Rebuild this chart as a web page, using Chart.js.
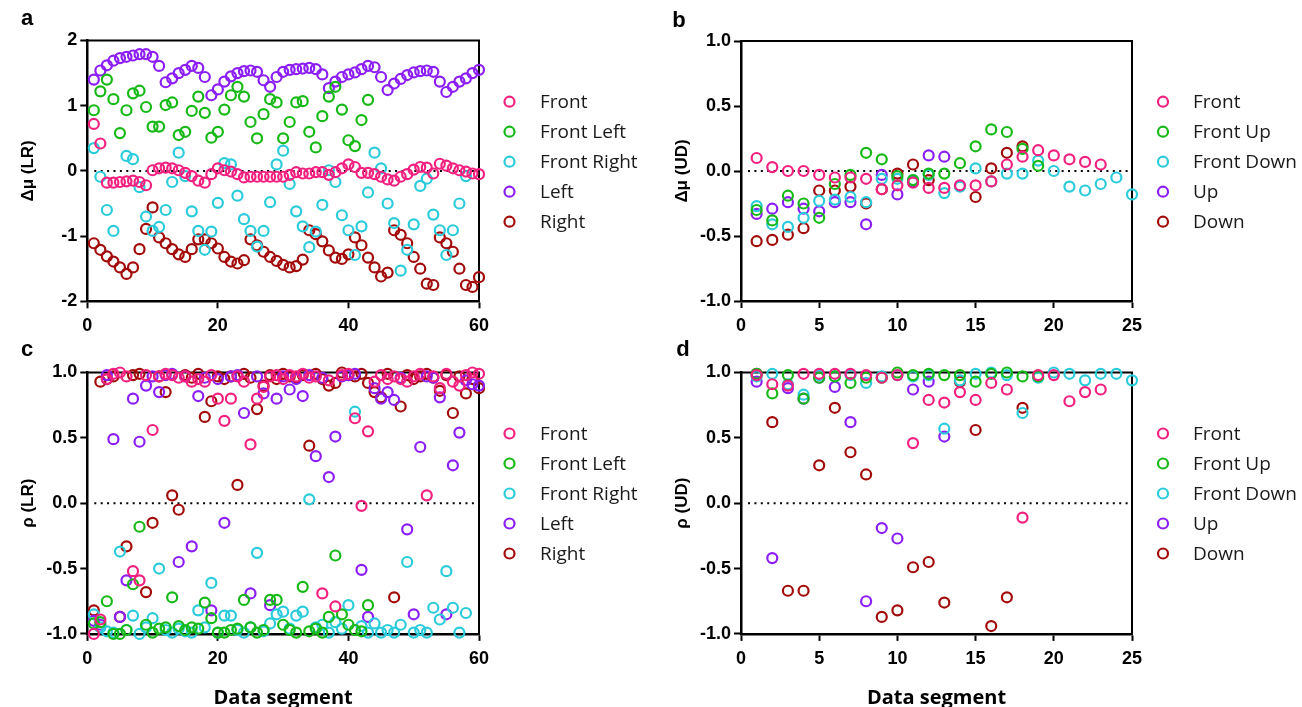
<!DOCTYPE html>
<html>
<head>
<meta charset="utf-8">
<script src="https://cdn.jsdelivr.net/npm/chart.js@4.4.1/dist/chart.umd.min.js"></script>
<style>
  html, body { margin:0; padding:0; background:#fff; width:1302px; height:707px; overflow:hidden; }
  canvas { position:absolute; }
</style>
</head>
<body>
<canvas id="ca" width="651" height="340" style="left:0;top:0"></canvas>
<canvas id="cb" width="651" height="340" style="left:651px;top:0"></canvas>
<canvas id="cc" width="651" height="370" style="left:0;top:340px"></canvas>
<canvas id="cd" width="651" height="370" style="left:651px;top:340px"></canvas>
<script>
// ---------- labels ----------
const lrLabels = ['Front', 'Front Left', 'Front Right', 'Left', 'Right'];
const udLabels = ['Front', 'Front Up', 'Front Down', 'Up', 'Down'];
const seriesColors = ['#F2207F', '#17B917', '#2ACBDB', '#8C1EF5', '#A30A0A'];

// ---------- tick values / labels ----------
const lrXTicks = [0, 20, 40, 60];
const lrXTickLabels = ['0', '20', '40', '60'];
const udXTicks = [0, 5, 10, 15, 20, 25];
const udXTickLabels = ['0', '5', '10', '15', '20', '25'];
const muLRYTicks = [-2, -1, 0, 1, 2];
const muLRYTickLabels = ['-2', '-1', '0', '1', '2'];
const unitYTicks = [-1, -0.5, 0, 0.5, 1];
const unitYTickLabels = ['-1.0', '-0.5', '0.0', '0.5', '1.0'];

// ---------- panel a : Δμ (LR), segments 1..60 ----------
const lrMuFront = [0.72,0.42,-0.18,-0.18,-0.17,-0.16,-0.15,-0.17,-0.22,0.01,
  0.04,0.05,0.04,0.01,-0.03,-0.08,-0.15,-0.18,-0.05,0.04,
  0.01,-0.01,-0.05,-0.10,-0.09,-0.09,-0.09,-0.09,-0.09,-0.09,
  -0.06,-0.02,-0.04,-0.04,-0.02,-0.02,-0.06,-0.02,0.04,0.10,
  0.06,-0.03,-0.03,-0.05,-0.09,-0.13,-0.15,-0.09,-0.05,0.02,
  0.06,0.05,-0.04,0.11,0.08,0.04,0.01,-0.01,-0.04,-0.05];
const lrMuFrontLeft = [0.93,1.22,1.40,1.10,0.58,0.93,1.19,1.23,0.98,0.68,
  0.68,1.01,1.05,0.55,0.60,0.92,1.14,0.89,0.51,0.60,
  0.94,1.16,1.29,1.14,0.75,0.50,0.87,1.10,1.05,0.50,
  0.75,1.05,1.07,0.60,0.36,0.84,1.14,1.29,0.94,0.47,
  0.38,0.78,1.09];
const lrMuFrontRight = [0.35,-0.09,-0.60,-0.92,null,0.23,0.18,-0.25,-0.70,-0.92,
  -0.86,-0.60,-0.17,0.28,-0.08,-0.62,-0.92,-1.21,-0.93,-0.49,
  0.12,0.10,-0.38,-0.74,-0.92,-1.16,-0.92,-0.48,0.10,0.31,
  -0.20,-0.62,-0.85,-1.17,-0.93,-0.52,0.01,-0.17,-0.68,-0.91,
  -1.29,-0.85,-0.33,0.28,0.04,-0.50,-0.80,-1.53,-1.21,-0.82,
  -0.23,-0.12,-0.67,-0.91,-1.29,-0.91,-0.50,-0.08];
const lrMuLeft = [1.40,1.54,1.62,1.69,1.73,1.75,1.77,1.79,1.79,1.75,
  1.61,1.36,1.42,1.50,1.55,1.61,1.58,1.44,1.16,1.25,
  1.37,1.45,1.50,1.53,1.54,1.52,1.39,1.29,1.44,1.52,
  1.55,1.56,1.57,1.58,1.56,1.48,1.27,1.37,1.44,1.48,
  1.51,1.56,1.61,1.59,1.44,1.24,1.34,1.41,1.47,1.51,
  1.53,1.54,1.52,1.37,1.21,1.29,1.37,1.42,1.50,1.55];
const lrMuRight = [-1.11,-1.21,-1.31,-1.39,-1.48,-1.58,-1.48,-1.20,-0.89,-0.56,
  -1.02,-1.11,-1.20,-1.28,-1.32,-1.20,-1.05,-1.05,-1.11,-1.19,
  -1.32,-1.39,-1.42,-1.37,-1.05,-1.14,-1.24,-1.32,-1.38,-1.44,
  -1.48,-1.46,-1.36,-0.91,-0.97,-1.08,-1.22,-1.33,-1.35,-1.28,
  -1.02,-1.14,-1.33,-1.48,-1.62,-1.56,-0.91,-0.98,-1.11,-1.32,
  -1.50,-1.73,-1.75,-1.02,-1.11,-1.24,-1.50,-1.75,-1.78,-1.63];

// ---------- panel b : Δμ (UD), segments 1..25 ----------
const udMuFront = [0.10,0.03,0.00,0.00,-0.03,-0.05,-0.05,-0.06,-0.14,-0.11,
  -0.09,-0.13,-0.13,-0.11,-0.11,-0.08,0.05,0.11,0.16,0.12,
  0.09,0.07,0.05];
const udMuFrontUp = [-0.30,-0.38,-0.19,-0.25,-0.36,-0.10,-0.03,0.14,0.09,-0.04,
  -0.07,-0.02,-0.02,0.06,0.19,0.32,0.30,0.17,0.04];
const udMuFrontDown = [-0.27,-0.41,-0.43,-0.36,-0.23,-0.22,-0.20,-0.24,-0.06,-0.06,
  -0.07,-0.03,-0.17,-0.12,0.02,-0.08,-0.02,-0.02,0.08,0.00,
  -0.12,-0.15,-0.10,-0.05,-0.18];
const udMuUp = [-0.33,-0.29,-0.24,-0.29,-0.31,-0.24,-0.24,-0.41,-0.03,-0.18,
  -0.08,0.12,0.11];
const udMuDown = [-0.54,-0.53,-0.49,-0.44,-0.15,-0.15,-0.12,-0.25,-0.14,-0.02,
  0.05,-0.07,null,null,-0.20,0.02,0.14,0.19];

// ---------- panel c : ρ (LR), segments 1..60 ----------
const lrRhoFront = [-1.00,-0.89,0.95,0.99,1.00,0.97,-0.52,-0.59,0.98,0.56,
  0.97,0.99,0.98,0.96,0.97,0.93,0.95,0.93,0.98,0.80,
  0.63,0.80,0.97,0.93,0.45,0.80,0.89,0.97,0.98,0.95,
  0.98,0.97,0.99,0.96,0.97,-0.69,0.94,-0.79,0.98,0.99,
  0.65,-0.02,0.55,0.93,0.98,0.95,0.97,0.95,0.93,0.97,
  0.99,0.06,0.97,0.88,0.99,0.93,0.90,0.98,1.00,0.99];
const lrRhoFrontLeft = [-0.92,-0.91,-0.75,-1.00,-1.00,-0.97,-0.62,-0.18,-0.93,-0.99,
  -0.96,-0.95,-0.72,-0.94,-0.97,-0.95,-0.96,-0.76,-0.88,-0.99,
  -0.99,-0.97,-0.96,-0.74,-0.95,-0.99,-0.97,-0.74,-0.74,-0.93,
  -0.97,-0.99,-0.64,-0.98,-0.96,-0.99,-0.87,-0.40,-0.85,-0.93,
  -0.97,-0.98,-0.78];
const lrRhoFrontRight = [-0.85,-0.95,-0.98,-0.99,-0.37,-0.97,-0.86,-1.00,-0.95,-0.88,
  -0.50,-0.97,-0.99,-0.96,-0.98,-0.99,-0.82,-0.95,-0.61,-0.99,
  -0.86,-0.86,-0.97,-0.99,-0.95,-0.38,-0.98,-0.92,-0.85,-0.83,
  -0.96,-0.86,-0.83,0.03,-0.95,-0.93,-0.99,-0.91,-0.96,-0.78,
  0.70,-0.94,-0.99,-0.92,-0.99,-0.97,-0.99,-0.93,-0.45,-0.99,
  -0.97,-0.99,-0.80,-0.89,-0.52,-0.80,-0.99,-0.84];
const lrRhoLeft = [-0.90,-0.93,0.98,0.49,-0.87,-0.59,0.80,0.47,0.90,0.97,
  0.85,0.98,0.99,-0.45,0.97,-0.33,0.82,0.96,-0.82,0.95,
  -0.15,0.97,0.98,0.69,-0.69,0.97,0.84,-0.78,0.80,0.97,
  0.87,0.95,0.82,0.98,0.36,0.96,0.20,0.51,0.97,0.98,
  0.99,-0.51,-0.87,0.88,0.80,0.85,0.79,0.96,-0.20,-0.85,
  0.43,0.97,0.96,0.81,-0.85,0.29,0.54,0.94,0.91,0.90];
const lrRhoRight = [-0.82,0.93,0.95,0.97,-0.87,-0.33,0.98,0.99,-0.68,-0.15,
  0.97,0.85,0.06,-0.05,0.98,0.96,0.99,0.66,0.78,0.97,
  0.95,0.97,0.14,0.99,0.96,0.72,0.90,0.98,0.95,0.99,
  0.97,0.96,0.98,0.44,0.99,0.95,0.90,0.92,1.00,0.98,
  0.97,0.99,0.92,0.85,0.81,0.99,-0.72,0.74,0.98,0.95,
  0.97,0.99,0.96,0.86,0.98,0.69,0.97,0.84,0.95,0.88];

// ---------- panel d : ρ (UD), segments 1..25 ----------
const udRhoFront = [0.98,0.91,0.90,0.99,0.99,0.99,0.99,0.98,0.96,0.98,
  0.46,0.79,0.77,0.85,0.79,0.92,0.87,-0.11,0.98,0.98,
  0.78,0.85,0.87];
const udRhoFrontUp = [0.99,0.84,0.98,0.80,0.96,0.97,0.92,0.96,0.96,1.00,
  0.98,0.99,0.98,0.98,0.93,0.99,1.00,0.97,0.97];
const udRhoFrontDown = [0.97,0.99,0.91,0.83,0.98,0.97,0.98,0.92,0.97,0.98,
  0.97,0.98,0.57,0.94,0.99,1.00,0.98,0.69,0.96,1.00,
  0.99,0.94,0.99,0.99,0.94];
const udRhoUp = [0.93,-0.42,0.88,0.80,0.96,0.89,0.62,-0.75,-0.19,-0.27,
  0.87,0.93,0.51];
const udRhoDown = [0.99,0.62,-0.67,-0.67,0.29,0.73,0.39,0.22,-0.87,-0.82,
  -0.49,-0.45,-0.76,0.93,0.56,-0.94,-0.72,0.73];

// ---------- helpers ----------
function toPoints(arr) {
  const out = [];
  arr.forEach((v, i) => { if (v !== null) out.push({ x: i + 1, y: v }); });
  return out;
}

const decorPlugin = {
  id: 'decor',
  beforeDatasetsDraw(chart, args, o) {
    const { ctx, chartArea: ca, scales } = chart;
    ctx.save();
    const y0 = scales.y.getPixelForValue(0);
    ctx.strokeStyle = '#000';
    ctx.lineWidth = 2;
    ctx.setLineDash([2, 4.4]);
    ctx.beginPath();
    ctx.moveTo(ca.left + 7, y0);
    ctx.lineTo(ca.right - 4, y0);
    ctx.stroke();
    ctx.setLineDash([]);
    ctx.lineWidth = 2;
    ctx.beginPath();
    ctx.moveTo(ca.left, ca.top);
    ctx.lineTo(ca.right, ca.top);
    ctx.lineTo(ca.right, ca.bottom);
    ctx.stroke();
    ctx.restore();
  },
  afterDraw(chart, args, o) {
    const { ctx } = chart;
    ctx.save();
    ctx.fillStyle = '#000';
    ctx.font = 'bold 22px "Liberation Sans", Arial, sans-serif';
    ctx.textAlign = 'center';
    ctx.textBaseline = 'alphabetic';
    ctx.fillText(o.letter, o.letterX, o.letterY);
    ctx.font = '19px "Open Sans", sans-serif';
    ctx.textAlign = 'left';
    ctx.textBaseline = 'middle';
    chart.data.datasets.forEach((ds, i) => {
      const y = o.legendY + i * 30;
      ctx.beginPath();
      ctx.arc(o.legendCX, y, 5, 0, Math.PI * 2);
      ctx.lineWidth = 2.2;
      ctx.strokeStyle = ds.borderColor;
      ctx.stroke();
      ctx.fillStyle = '#1a1a1a';
      ctx.fillText(ds.label, o.legendTX, y + 1);
    });
    ctx.restore();
  }
};

const tickFont = { family: 'Liberation Sans', size: 18, weight: 'bold' };

function makeChart(id, c) {
  const datasets = c.series.map((arr, i) => ({
    label: c.labels[i],
    data: toPoints(arr),
    borderColor: seriesColors[i],
    backgroundColor: 'rgba(0,0,0,0)',
    pointRadius: 5,
    pointBorderWidth: 2.2,
    pointHoverRadius: 5,
    showLine: false,
    clip: false
  }));
  return new Chart(document.getElementById(id), {
    type: 'scatter',
    data: { datasets },
    plugins: [decorPlugin],
    options: {
      responsive: false,
      animation: false,
      devicePixelRatio: 1,
      events: [],
      layout: { padding: { left: 0, top: c.padTop, right: c.padRight, bottom: 0 } },
      plugins: {
        legend: { display: false },
        tooltip: { enabled: false },
        decor: c.decor
      },
      scales: {
        x: {
          type: 'linear', min: c.xTicks[0], max: c.xTicks[c.xTicks.length - 1],
          afterBuildTicks: s => { s.ticks = c.xTicks.map(v => ({ value: v })); },
          afterFit: s => { s.height = c.xAxisHeight; },
          ticks: { callback: v => c.xTickLabels[c.xTicks.indexOf(v)], font: tickFont, color: '#000', padding: 7, maxRotation: 0, autoSkip: false },
          grid: { drawOnChartArea: false, drawTicks: true, tickLength: 7, tickWidth: 2, tickColor: '#000' },
          border: { display: true, color: '#000', width: 2.5 },
          title: c.xTitle ? { display: true, text: c.xTitle, color: '#000', font: { family: 'Open Sans', size: 20, weight: 'bold' }, padding: { top: 0, bottom: 0 } } : { display: false }
        },
        y: {
          type: 'linear', min: c.yTicks[0], max: c.yTicks[c.yTicks.length - 1],
          afterBuildTicks: s => { s.ticks = c.yTicks.map(v => ({ value: v })); },
          afterFit: s => { s.width = c.yAxisWidth; },
          ticks: { callback: v => c.yTickLabels[c.yTicks.indexOf(v)], font: tickFont, color: '#000', padding: 3, autoSkip: false },
          grid: { drawOnChartArea: false, drawTicks: true, tickLength: 7, tickWidth: 2, tickColor: '#000' },
          border: { display: true, color: '#000', width: 2.5 },
          title: { display: true, text: c.yTitle, color: '#000', font: { family: 'Liberation Sans', size: 17, weight: 'bold' }, padding: { top: c.yTitlePad, bottom: 0 } }
        }
      }
    }
  });
}

makeChart('ca', {
  series: [lrMuFront, lrMuFrontLeft, lrMuFrontRight, lrMuLeft, lrMuRight], labels: lrLabels,
  xTicks: lrXTicks, xTickLabels: lrXTickLabels, yTicks: muLRYTicks, yTickLabels: muLRYTickLabels,
  yTitle: 'Δμ (LR)', xTitle: null,
  yAxisWidth: 87.3, xAxisHeight: 38.7, padTop: 40.5, padRight: 172, yTitlePad: 18,
  decor: { letter: 'a', letterX: 27, letterY: 25, legendCX: 509.5, legendTX: 540, legendY: 101.7 }
});
makeChart('cb', {
  series: [udMuFront, udMuFrontUp, udMuFrontDown, udMuUp, udMuDown], labels: udLabels,
  xTicks: udXTicks, xTickLabels: udXTickLabels, yTicks: unitYTicks, yTickLabels: unitYTickLabels,
  yTitle: 'Δμ (UD)', xTitle: null,
  yAxisWidth: 90, xAxisHeight: 39, padTop: 41, padRight: 170, yTitlePad: 21,
  decor: { letter: 'b', letterX: 28, letterY: 27, legendCX: 512, legendTX: 542, legendY: 101.7 }
});
makeChart('cc', {
  series: [lrRhoFront, lrRhoFrontLeft, lrRhoFrontRight, lrRhoLeft, lrRhoRight], labels: lrLabels,
  xTicks: lrXTicks, xTickLabels: lrXTickLabels, yTicks: unitYTicks, yTickLabels: unitYTickLabels,
  yTitle: 'ρ (LR)', xTitle: 'Data segment',
  yAxisWidth: 87.3, xAxisHeight: 76.1, padTop: 32.5, padRight: 172, yTitlePad: 18,
  decor: { letter: 'c', letterX: 27, letterY: 16, legendCX: 509.5, legendTX: 540, legendY: 93.5 }
});
makeChart('cd', {
  series: [udRhoFront, udRhoFrontUp, udRhoFrontDown, udRhoUp, udRhoDown], labels: udLabels,
  xTicks: udXTicks, xTickLabels: udXTickLabels, yTicks: unitYTicks, yTickLabels: unitYTickLabels,
  yTitle: 'ρ (UD)', xTitle: 'Data segment',
  yAxisWidth: 90, xAxisHeight: 76.1, padTop: 32.5, padRight: 170, yTitlePad: 21,
  decor: { letter: 'd', letterX: 32, letterY: 16, legendCX: 512, legendTX: 542, legendY: 93.5 }
});
</script>
</body>
</html>
